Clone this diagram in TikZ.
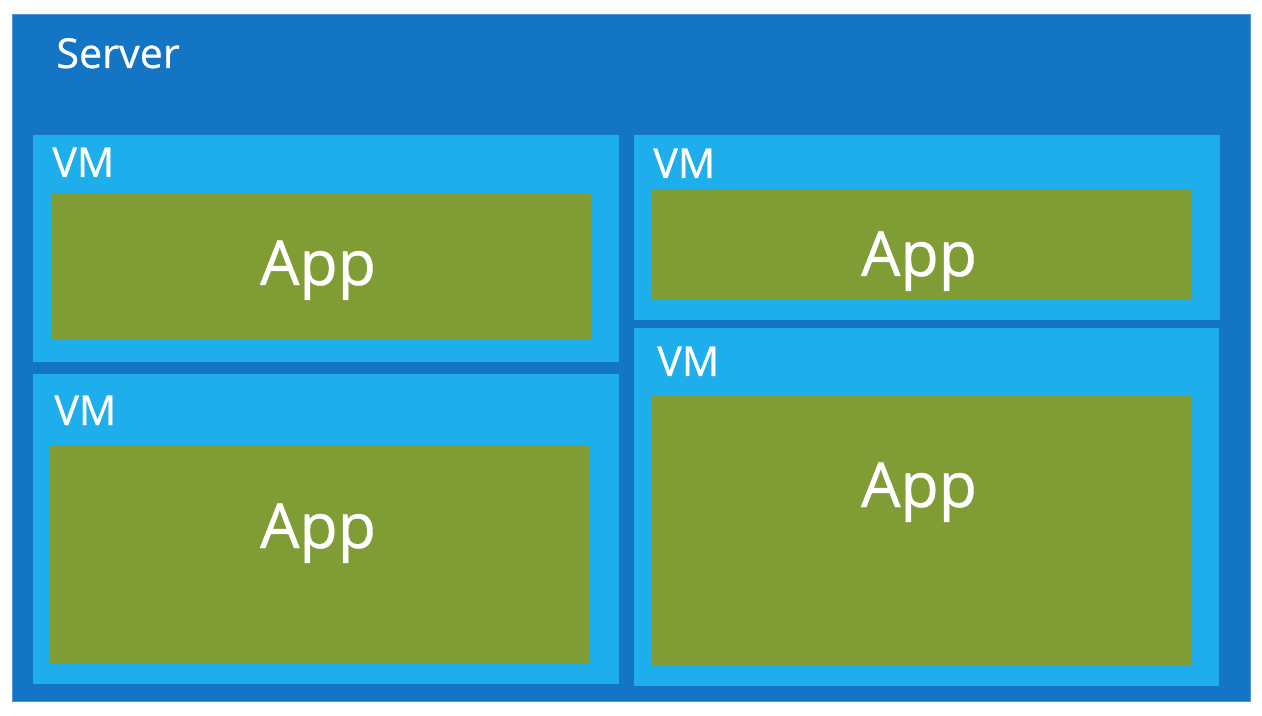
\documentclass[tikz,border=0pt]{standalone}
\usepackage{fontspec}
\setmainfont{Open Sans}
\newfontfamily\diagfont{Open Sans}[FakeBold=0.6]
\usepackage{xcolor}
\usepackage{tikz}
\usetikzlibrary{positioning,fit}
\definecolor{serverblue}{RGB}{19,117,196}
\definecolor{serveredge}{RGB}{80,150,215}
\definecolor{vmblue}{RGB}{30,174,235}
\definecolor{appgreen}{RGB}{128,156,53}
\tikzset{
  serverbox/.style={
    rectangle,
    draw=serveredge,
    line width=0.4pt,
    fill=serverblue,
    inner sep=0pt
  },
  vmbox/.style={
    rectangle,
    fill=vmblue,
    inner sep=0pt
  },
  appbox/.style={
    rectangle,
    fill=appgreen,
    inner sep=0pt
  },
  boxlabel/.style={
    text=white,
    inner sep=0pt,
    anchor=base west,
    font=\diagfont\fontsize{23.5}{28}\selectfont
  },
  applabel/.style={
    text=white,
    inner sep=0pt,
    anchor=base,
    font=\diagfont\fontsize{35.5}{42}\selectfont
  }
}

\begin{document}
\begin{tikzpicture}[x=0.02cm,y=-0.02cm]
\useasboundingbox (0,0) rectangle (1262,716);
% server
\node[serverbox, fit={(12,14) (1250,701)}] (srv) {};
\node[boxlabel] (srvl) at (56,68) {Server};
% left column
\node[vmbox, fit={(33,135) (619,362)}] (vm1) {};
\node[appbox, fit={(51,193) (591,340)}] (app1) {};
\node[vmbox, fit={(33,374) (619,684)}] (vm3) {};
\node[appbox, fit={(50,445) (590,663)}] (app3) {};
% right column
\node[vmbox, fit={(634,135) (1220,320)}] (vm2) {};
\node[appbox, fit={(651,189) (1192,299)}] (app2) {};
\node[vmbox, fit={(634,328) (1219,686)}] (vm4) {};
\node[appbox, fit={(651,396) (1192,665)}] (app4) {};
% labels
\node[boxlabel] (vm1l) at (52,177) {VM};
\node[boxlabel] (vm2l) at (653,178) {VM};
\node[boxlabel] (vm3l) at (54,425) {VM};
\node[boxlabel] (vm4l) at (657,376) {VM};
\node[applabel] (app1l) at (318,285) {App};
\node[applabel] (app2l) at (919,276) {App};
\node[applabel] (app3l) at (318,548) {App};
\node[applabel] (app4l) at (919,507) {App};
\end{tikzpicture}
\end{document}
